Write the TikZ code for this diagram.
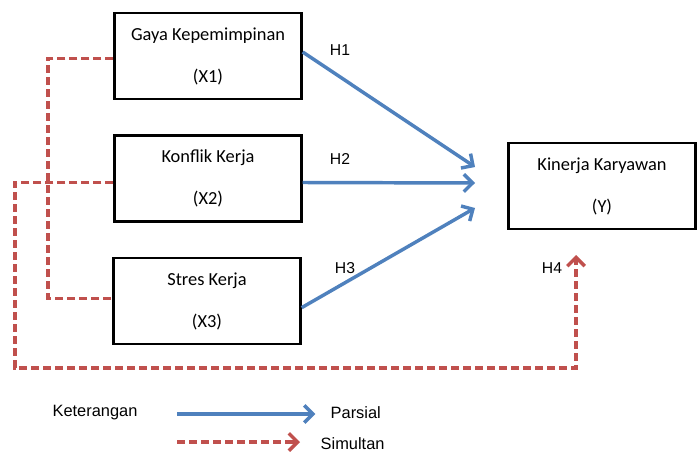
\documentclass[tikz,border=0pt]{standalone}
\usepackage{fontspec}
\setmainfont{Carlito}
\newfontfamily\labelfont{Liberation Sans}
\usepackage{tikz}
\usetikzlibrary{positioning,arrows.meta}

\definecolor{parsblue}{HTML}{4F81BD}
\definecolor{simred}{HTML}{C0504D}

\tikzset{
  varbox/.style={draw=black, line width=2pt, minimum width=140pt, minimum height=64.5pt,
    align=center, font=\fontsize{13.8}{31.5}\selectfont},
  hlabel/.style={font=\labelfont\fontsize{11.8}{14}\selectfont},
  leglabel/.style={font=\labelfont\fontsize{12.3}{15}\selectfont},
  tip/.style={-{Straight Barb[length=6.5pt,width=13pt]}},
  parsial/.style={draw=parsblue, line width=2.6pt, tip},
  simultan/.style={draw=simred, line width=2.6pt, dash pattern=on 6pt off 3pt},
  simtip/.style={draw=simred, line width=2.6pt, tip},
}

\begin{document}
\begin{tikzpicture}[x=0.75pt,y=-0.75pt]
  \useasboundingbox (0,0) rectangle (699,453);

  % variables
  \node[varbox] (x1) at (208,56) {Gaya Kepemimpinan\\(X1)};
  \node[varbox] (x2) at (208,178.5) {Konflik Kerja\\(X2)};
  \node[varbox] (x3) at (207,301) {Stres Kerja\\(X3)};
  \node[varbox] (y) at (602,186) {Kinerja Karyawan\\(Y)};

  % arrow ends
  \coordinate (t1) at (475,167);
  \coordinate (t2) at (475,183);
  \coordinate (t3) at (475,208);
  \coordinate (c1) at (48,180);
  \coordinate (c2) at (15,368);
  \coordinate (t4) at (576,255);

  % partial
  \draw[parsial] ([yshift=3pt]x1.east) -- (t1);
  \draw[parsial] ([yshift=-3pt]x2.east) -- (t2);
  \draw[parsial] ([yshift=-5pt]x3.east) -- (t3);

  % simultaneous
  \draw[simultan] ([yshift=-2pt]x1.west) -| (c1) |- ([yshift=2pt]x3.west);
  \draw[simultan] ([yshift=-3pt]x2.west) -| (c2) -| ([yshift=-4pt]t4);
  \draw[simtip] ([yshift=-5pt]t4) -- (t4);

  \node[hlabel] (h1) at (340,50) {H1};
  \node[hlabel] (h2) at (340,159) {H2};
  \node[hlabel] (h3) at (345,268) {H3};
  \node[hlabel] (h4) at (552,268) {H4};

  % legend
  \node[leglabel] (ket) at (95,413) {Keterangan};
  \node[leglabel, anchor=west] (pars) at (326,413) {Parsial};
  \node[leglabel, anchor=west] (simul) at (316,444) {Simultan};
  \coordinate (la) at (177,414);
  \coordinate (lb) at (177,442);
  \draw[parsial] (la) -- ([xshift=-8pt]pars.west |- la);
  \draw[simultan] (lb) -- (294,442);
  \draw[simtip] (292,442) -- ([xshift=-12pt]simul.west |- lb);
\end{tikzpicture}
\end{document}
